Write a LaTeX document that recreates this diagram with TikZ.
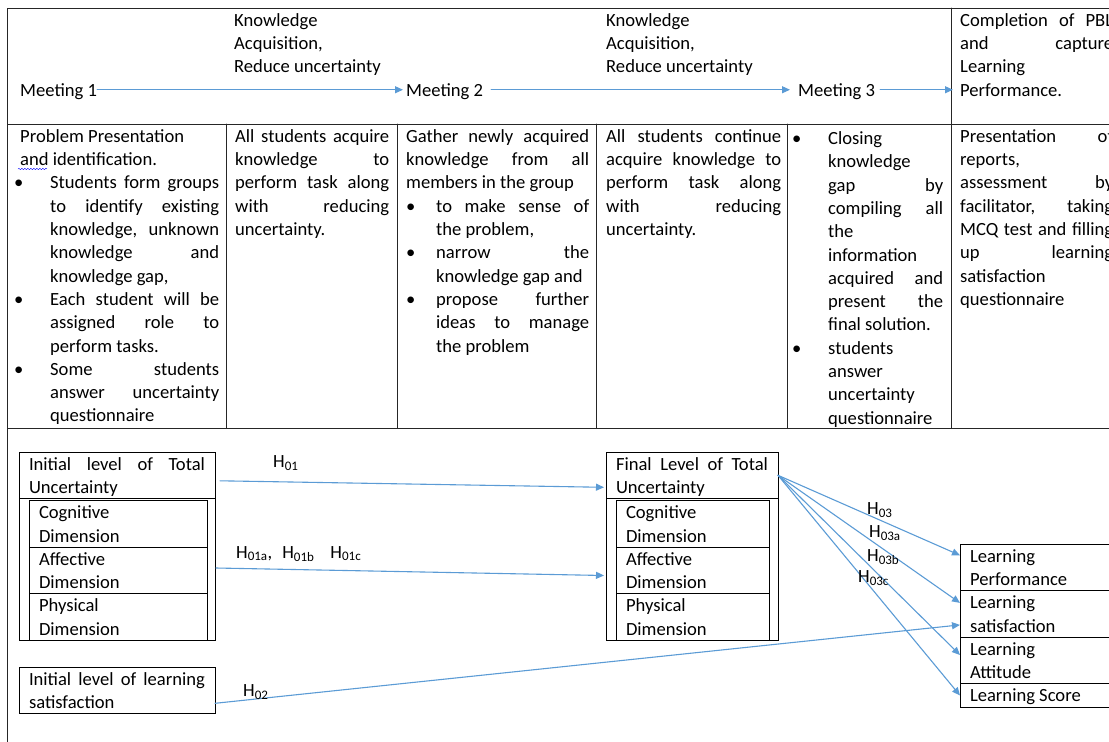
\documentclass[tikz,border=0pt]{standalone}
\usepackage{fontspec}
\setmainfont{Carlito}
\usetikzlibrary{arrows.meta, calc, positioning, decorations.pathmorphing}

\setlength\parindent{0pt}
\tolerance=10000
\hbadness=10000
\hyphenpenalty=10000
\newcommand\bodyfont{\fontsize{18.6}{23.3}\selectfont}
\newcommand\ls{\rule[-5.2pt]{0pt}{23.3pt}}
\newcommand\bitem[1][-6pt]{\par\leftskip=30pt\noindent\llap{\makebox[\dimexpr30pt-#1\relax][l]{\textbullet}}\ls\ignorespaces}
\newcommand\hyp[1]{H\textsubscript{#1}}

\begin{document}
\begin{tikzpicture}
		[x=1pt,y=-1pt,line cap=round,
		%Styles
		table line/.style={line width=0.9pt,black!85},
		flow arrow/.style={arrowblue,line width=1.1pt,-{Triangle[length=8pt,width=7pt]}},
		cell text/.style={anchor=north west,inner sep=0pt,text width=#1,align=justify,font=\bodyfont},
		plain text/.style={anchor=north west,inner sep=0pt,font=\bodyfont},
		var box/.style={draw,line width=0.9pt,anchor=north west,outer sep=0pt,inner xsep=10pt,inner ysep=0pt,text width=#1,align=justify,font=\bodyfont},
		hyp label/.style={anchor=west,inner sep=0pt,font=\bodyfont}
		]
		
		%Colors
		\definecolor{wordblue}{RGB}{91,155,213}
		\colorlet{arrowblue}{wordblue}	%all arrows
		
		\useasboundingbox (0,0) rectangle (1109,742);
		
		%The table
		\draw[table line] (7.5,742) -- (7.5,8) -- (1115,8);
		\draw[table line] (7.5,124) -- (1115,124);
		\draw[table line] (7.5,428) -- (1115,428);
		\draw[table line] (951,8) -- (951,428);
		\foreach \x in {226,397,596.5,787.5}
			\draw[table line] (\x,124) -- (\x,428);
		
		%First row
		\node[cell text=160pt] (know1) at (234,8) {\ls Knowledge\\ Acquisition,\\ Reduce uncertainty\ls};
		\node[cell text=160pt] (know2) at (606,8) {\ls Knowledge\\ Acquisition,\\ Reduce uncertainty\ls};
		\node[plain text] (meet1) at (20,77.9) {\ls Meeting 1\ls};
		\node[plain text] (meet2) at (406,77.9) {\ls Meeting 2\ls};
		\node[plain text] (meet3) at (798,77.9) {\ls Meeting 3\ls};
		\node[cell text=153pt] (compl) at (960,8) {\ls Completion of PBL\linebreak and capture\linebreak Learning\linebreak Performance.\ls};
		
		\draw[flow arrow] (meet1.east) -- ([xshift=-3pt]meet2.west);
		\draw[flow arrow] ([xshift=8pt]meet2.east) -- ([xshift=-8pt]meet3.west);
		\draw[flow arrow] ([xshift=5pt]meet3.east) -- ($(compl.west |- meet3.east)+(-7,0)$);
		
		%Second row
		\node[cell text=199pt] (task1) at (20,124) {\ls Problem Presentation\\ and identification.
			\bitem Students form groups\linebreak to identify existing\linebreak knowledge, unknown\linebreak knowledge and\linebreak knowledge gap,
			\bitem Each student will be\linebreak assigned role to\linebreak perform tasks.
			\bitem Some students\linebreak answer uncertainty\linebreak questionnaire\ls\par};
		\draw[blue,decorate,decoration={snake,amplitude=0.7pt,segment length=3pt}] (18,169) -- (47,169);
		\node[cell text=154pt] (task2) at (235,124) {\ls All students acquire\linebreak knowledge to\linebreak perform task along\linebreak with reducing\linebreak uncertainty.\ls};
		\node[cell text=183pt] (task3) at (406,124) {\ls Gather newly acquired\linebreak knowledge from all\linebreak members in the group
			\bitem[0pt] to make sense of\linebreak the problem,
			\bitem[0pt] narrow the\linebreak knowledge gap and
			\bitem[0pt] propose further\linebreak ideas to manage\linebreak the problem\ls\par};
		\node[cell text=175pt] (task4) at (606,124) {\ls All students continue\linebreak acquire knowledge to\linebreak perform task along\linebreak with reducing\linebreak uncertainty.\ls};
		\node[cell text=145pt] (task5) at (798,121) {\bitem Closing\linebreak knowledge\linebreak gap by\linebreak compiling all\linebreak the\linebreak information\linebreak acquired and\linebreak present the\linebreak final solution.
			\bitem students\linebreak answer\linebreak uncertainty\linebreak questionnaire\ls\par};
		\node[cell text=153pt] (task6) at (960,124) {\ls Presentation of\linebreak reports,\\ assessment by\linebreak facilitator, taking\linebreak MCQ test and filling\linebreak up learning\linebreak satisfaction\linebreak questionnaire\ls};
		
		%Third row: the model
		\node[var box=176pt] (iniTot) at (19,452) {\ls Initial level of Total\linebreak Uncertainty\ls};
		\node[var box=158pt] (cog1) at (29,500.6) {\ls Cognitive\\ Dimension\ls};
		\node[var box=158pt,below=0pt of cog1] (aff1) {\ls Affective\\ Dimension\ls};
		\node[var box=158pt,below=0pt of aff1] (phy1) {\ls Physical\\ Dimension\ls};
		\draw[line width=0.9pt] (iniTot.south west) rectangle (iniTot.east |- phy1.south);
		
		\node[var box=176pt] (iniSat) at (19,667) {\ls Initial level of learning\linebreak satisfaction\ls};
		
		\node[var box=152pt] (finTot) at (606,452) {\ls Final Level of Total\linebreak Uncertainty\ls};
		\node[var box=133pt] (cog2) at (616,500.6) {\ls Cognitive\\ Dimension\ls};
		\node[var box=133pt,below=0pt of cog2] (aff2) {\ls Affective\\ Dimension\ls};
		\node[var box=133pt,below=0pt of aff2] (phy2) {\ls Physical\\ Dimension\ls};
		\draw[line width=0.9pt] (finTot.south west) rectangle (finTot.east |- phy2.south);
		
		\node[var box=150pt] (lPerf) at (960,544) {\ls Learning\\ Performance\ls};
		\node[var box=150pt,below=0pt of lPerf] (lSat) {\ls Learning\\ satisfaction\ls};
		\node[var box=150pt,below=0pt of lSat] (lAtt) {\ls Learning\\ Attitude\ls};
		\node[var box=150pt,below=0pt of lAtt] (lScore) {\ls Learning Score\ls};
		
		\draw[flow arrow] ($(iniTot.east)+(5,5.5)$) -- ($(finTot.west)+(-2,12)$);
		\draw[flow arrow] ($(iniTot.east |- aff1.east)+(1,-2.5)$) -- ($(finTot.west |- aff2.east)+(-2,5)$);
		\draw[flow arrow] ($(iniSat.east)+(0,13)$) -- ($(lSat.west)+(0,11)$);
		\draw[flow arrow] (finTot.east) -- ($(lPerf.west)+(0,-12)$);
		\draw[flow arrow] (finTot.east) -- ($(lSat.west)+(0,-11)$);
		\draw[flow arrow] (finTot.east) -- ($(lAtt.west)+(0,-5.5)$);
		\draw[flow arrow] (finTot.east) -- (lScore.west);
		
		\node[hyp label] (h1) at (273,463) {\hyp{01}};
		\node[hyp label] (h1abc) at (236,554) {\hyp{01a},\hspace{10pt}\hyp{01b}\hspace{16pt}\hyp{01c}};
		\node[hyp label] (h2) at (243,692) {\hyp{02}};
		\node[hyp label] (h3) at (867,510) {\hyp{03}};
		\node[hyp label] (h3a) at (869,533) {\hyp{03a}};
		\node[hyp label] (h3b) at (867,557) {\hyp{03b}};
		\node[hyp label] (h3c) at (858,578) {\hyp{03c}};
		
	\end{tikzpicture}
\end{document}
